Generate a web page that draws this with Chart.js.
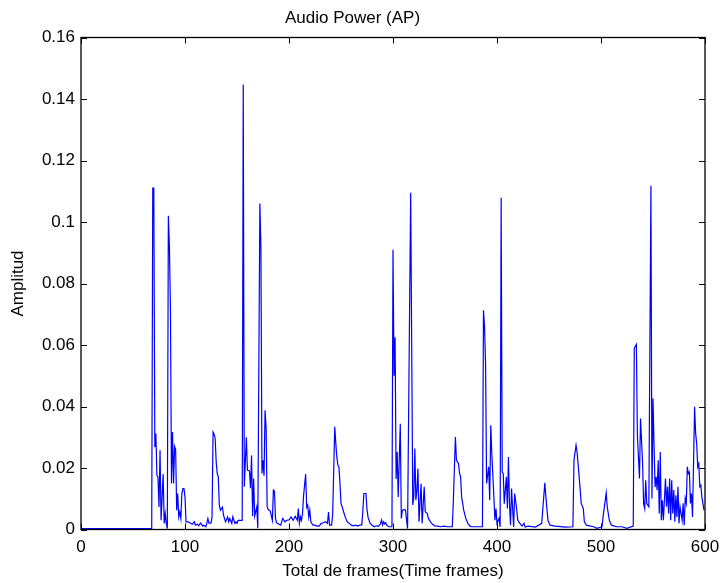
<!DOCTYPE html>
<html>
<head>
<meta charset="utf-8">
<script src="https://cdn.jsdelivr.net/npm/chart.js@4/dist/chart.umd.min.js"></script>
<style>
  html, body { margin: 0; padding: 0; background: #fff; }
  #wrap { width: 722px; height: 583px; position: relative; }
</style>
</head>
<body>
<div id="wrap"><canvas id="c" width="722" height="583"></canvas></div>
<script>
const chartTitle = "Audio Power (AP)";
const xTitle = "Total de frames(Time frames)";
const yTitle = "Amplitud";

const frames = [
  0,68,69,70,71,72,73,74,75,76,77,79,80,81,82,83,84,85,86,87,88,89,90,91,92,93,94,95,96,97,98,99,100,101,
  103,105,107,109,110,112,113,115,117,118,120,121,122,123,125,126,127,128,129,130,131,132,133,134,136,137,
  139,141,142,143,145,146,148,149,150,151,153,155,156,157,159,160,162,163,164,165,166,167,169,170,172,173,
  174,175,176,177,178,179,180,182,184,185,186,187,188,190,192,194,196,198,200,202,204,206,208,209,210,211,
  212,213,214,216,217,218,219,220,221,223,225,227,229,231,233,235,237,238,239,241,242,244,245,246,247,248,
  249,250,251,253,254,256,258,260,262,264,266,268,270,271,272,274,275,276,278,280,282,284,286,288,289,290,
  291,292,293,294,296,299,300,301,302,303,304,305,307,308,309,311,312,314,317,319,320,321,322,323,324,325,
  327,328,330,331,333,334,336,338,340,343,346,349,352,357,358,360,361,362,363,364,365,366,367,368,370,372,
  374,376,386,387,388,389,390,392,393,394,395,397,398,399,400,402,403,404,405,406,407,409,410,411,412,413,
  414,416,417,419,420,422,424,426,427,430,437,443,446,447,449,451,456,466,473,474,476,477,479,481,483,484,
  486,490,493,496,501,502,505,506,508,510,515,520,525,531,532,534,535,536,537,538,540,541,542,543,544,546,
  548,549,550,551,552,553,554,555,556,557,558,559,560,562,563,564,565,566,567,568,569,570,571,572,573,574,
  575,576,578,579,580,581,582,583,584,585,586,587,588,590,591,592,593,594,595,596,597,599
];

const ap = [
  0.0003,0.0003,0.111,0.111,0.0268,0.0312,0.0176,0.0171,0.0073,0.0258,0.003,0.018,0.002,0.0052,0.002,0.0003,0.102,0.092,0.072,0.015,0.0317,0.015,0.027,0.026,0.0063,0.0117,0.0041,0.0057,0.0036,0.0117,0.0133,0.0133,0.0106,0.0025,
  0.0025,0.0021,0.0017,0.0025,0.0014,0.0017,0.0012,0.0021,0.0011,0.0014,0.0009,0.0021,0.0036,0.0021,0.0021,0.0041,0.0317,0.031,0.0296,0.022,0.0182,0.0171,0.0079,0.0063,0.0073,0.0047,
  0.0025,0.0041,0.0025,0.0036,0.002,0.0041,0.002,0.0025,0.002,0.003,0.003,0.003,0.1447,0.0139,0.030,0.0193,0.019,0.0134,0.0241,0.0044,0.0166,0.0044,0.0073,0.0004,0.106,0.0918,
  0.0182,0.0225,0.0175,0.0388,0.033,0.0074,0.0065,0.006,0.003,0.0128,0.0125,0.0036,0.0022,0.0018,0.0014,0.0036,0.0025,0.003,0.0031,0.0041,0.003,0.0043,0.003,0.0068,0.002,0.0041,
  0.003,0.0052,0.011,0.018,0.0072,0.0079,0.0041,0.0063,0.0025,0.0014,0.0014,0.0011,0.0011,0.002,0.0022,0.0025,0.002,0.0057,0.0014,0.0014,0.005,0.0334,0.028,0.0236,0.0209,0.0204,
  0.015,0.0085,0.0075,0.0052,0.0041,0.0025,0.002,0.0014,0.0012,0.0014,0.0011,0.0014,0.0015,0.006,0.0117,0.0117,0.0065,0.004,0.002,0.0014,0.0009,0.0012,0.001,0.0019,0.0031,0.0015,
  0.0025,0.0018,0.0022,0.0014,0.0009,0.0009,0.091,0.05,0.0625,0.0164,0.0252,0.0106,0.0344,0.0036,0.0062,0.0065,0.0063,0.0003,0.1095,0.008,0.0106,0.0263,0.0095,0.0128,0.0198,0.0025,
  0.0149,0.002,0.0139,0.0058,0.0052,0.0036,0.0025,0.0017,0.0012,0.0011,0.0009,0.0011,0.0009,0.0009,0.009,0.0301,0.0226,0.022,0.0214,0.0182,0.0171,0.0106,0.0085,0.0063,0.0036,0.002,
  0.0011,0.0009,0.0009,0.0713,0.066,0.054,0.015,0.0204,0.0095,0.0339,0.0247,0.0106,0.003,0.0068,0.002,0.0036,0.0008,0.1079,0.0187,0.0182,0.0084,0.0171,0.0068,0.0236,0.0084,0.0014,
  0.0133,0.0008,0.0117,0.0063,0.003,0.002,0.0011,0.002,0.0008,0.0011,0.0008,0.002,0.0152,0.0106,0.003,0.0014,0.0011,0.0008,0.0009,0.0225,0.0274,0.0252,0.0171,0.0085,0.0068,0.0025,
  0.0014,0.0011,0.0009,0.0004,0.0009,0.0041,0.0119,0.0074,0.003,0.0014,0.0009,0.0009,0.0004,0.0011,0.059,0.0602,0.0307,0.0236,0.0166,0.0361,0.0214,0.0084,0.0068,0.016,0.0084,0.0074,
  0.1118,0.0101,0.0426,0.0275,0.0138,0.0171,0.0128,0.0225,0.0052,0.0252,0.003,0.0095,0.003,0.0166,0.0074,0.0139,0.0052,0.0166,0.003,0.016,0.0052,0.0128,0.0025,0.0111,0.0041,0.0139,
  0.002,0.0074,0.003,0.0085,0.0014,0.0101,0.0085,0.0204,0.0182,0.0187,0.0085,0.0117,0.0041,0.0399,0.0312,0.028,0.0204,0.0214,0.0139,0.0144,0.0106,0.0063
];

const xMin = 0, xMax = 600, xStep = 100;
const yMin = 0, yMax = 0.16, yStep = 0.02;

const points = frames.map((f, i) => ({ x: f, y: ap[i] }));

const FONT = "'Liberation Sans', Arial, Helvetica, sans-serif";

const boxAndTicks = {
  id: 'boxAndTicks',
  afterDatasetsDraw(chart) {
    const { ctx, chartArea: a, scales } = chart;
    ctx.save();
    ctx.strokeStyle = '#000';
    ctx.lineWidth = 1;
    const L = 6;
    ctx.beginPath();
    scales.x.ticks.forEach(t => {
      const px = Math.round(scales.x.getPixelForValue(t.value)) + 0.5;
      ctx.moveTo(px, a.bottom); ctx.lineTo(px, a.bottom - L);
      ctx.moveTo(px, a.top); ctx.lineTo(px, a.top + L);
    });
    scales.y.ticks.forEach(t => {
      const py = Math.round(scales.y.getPixelForValue(t.value)) + 0.5;
      ctx.moveTo(a.left, py); ctx.lineTo(a.left + L, py);
      ctx.moveTo(a.right, py); ctx.lineTo(a.right - L, py);
    });
    ctx.stroke();
    ctx.lineWidth = 1.3;
    ctx.strokeRect(a.left, a.top, a.right - a.left, a.bottom - a.top);
    ctx.restore();
  }
};

new Chart(document.getElementById('c'), {
  type: 'line',
  data: {
    datasets: [{
      data: points,
      borderColor: '#0000ff',
      borderWidth: 1.2,
      pointRadius: 0,
      tension: 0,
      fill: false
    }]
  },
  options: {
    responsive: false,
    animation: false,
    parsing: true,
    layout: { padding: { left: 0, right: 17, top: 0, bottom: 0 } },
    plugins: {
      legend: { display: false },
      tooltip: { enabled: false },
      title: {
        display: true,
        text: chartTitle,
        color: '#000',
        font: { family: FONT, size: 17, weight: 'normal', lineHeight: 1.2 },
        padding: { top: 8, bottom: 9.1 }
      }
    },
    scales: {
      x: {
        type: 'linear',
        min: xMin, max: xMax,
        grid: { display: false, drawTicks: false },
        border: { display: false },
        ticks: {
          stepSize: xStep,
          color: '#000',
          padding: 8,
          maxRotation: 0,
          font: { family: FONT, size: 17 }
        },
        title: {
          display: true,
          text: xTitle,
          color: '#000',
          font: { family: FONT, size: 17, lineHeight: 1.2 },
          padding: { top: 0, bottom: 1 }
        },
        afterFit(scale) {
          scale.height = 53.5;
          scale.paddingLeft = 0;
          scale.paddingRight = 0;
        }
      },
      y: {
        type: 'linear',
        min: yMin, max: yMax,
        grid: { display: false, drawTicks: false },
        border: { display: false },
        ticks: {
          stepSize: yStep,
          color: '#000',
          padding: 6,
          font: { family: FONT, size: 17 },
          callback: v => String(+Number(v).toFixed(2))
        },
        title: {
          display: true,
          text: yTitle,
          color: '#000',
          font: { family: FONT, size: 17, lineHeight: 1.2 },
          padding: { top: 7.8, bottom: 0 }
        },
        afterFit(scale) {
          scale.width = 81;
          scale.paddingTop = 0;
          scale.paddingBottom = 0;
        }
      }
    }
  },
  plugins: [boxAndTicks]
});
</script>
</body>
</html>
